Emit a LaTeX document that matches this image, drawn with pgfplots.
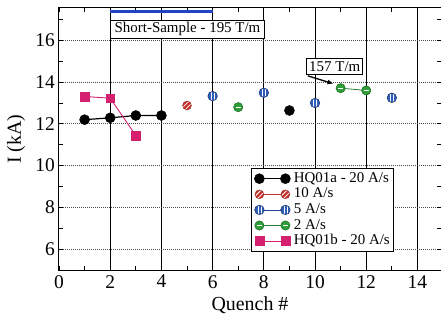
\documentclass[border=0pt]{standalone}
\usepackage{fontspec}
\setmainfont{Liberation Serif}
\usepackage{pgfplots}
\pgfplotsset{compat=1.18}
\usetikzlibrary{arrows.meta}
\definecolor{cred}{HTML}{C8322C}
\definecolor{cblue}{HTML}{2F5DB8}
\definecolor{cgreen}{HTML}{2E9E38}
\definecolor{cmag}{HTML}{D4206E}
\definecolor{sblue}{HTML}{2244C0}
% red: circle with white diagonal stripes
\pgfdeclareplotmark{hatchdiag}{%
  \pgfpathcircle{\pgfpointorigin}{\pgfplotmarksize}\pgfusepathqfillstroke
  \begin{pgfscope}
    \pgfpathcircle{\pgfpointorigin}{0.9\pgfplotmarksize}\pgfusepath{clip}%
    \pgfsetstrokecolor{white}\pgfsetlinewidth{0.75bp}%
    \pgfpathmoveto{\pgfpoint{-1.5\pgfplotmarksize}{-0.95\pgfplotmarksize}}%
    \pgfpathlineto{\pgfpoint{1.5\pgfplotmarksize}{2.05\pgfplotmarksize}}%
    \pgfpathmoveto{\pgfpoint{-1.5\pgfplotmarksize}{-2.05\pgfplotmarksize}}%
    \pgfpathlineto{\pgfpoint{1.5\pgfplotmarksize}{0.95\pgfplotmarksize}}%
    \pgfusepathqstroke
  \end{pgfscope}}
% blue: circle with white vertical lines
\pgfdeclareplotmark{hatchvert}{%
  \pgfpathcircle{\pgfpointorigin}{\pgfplotmarksize}\pgfusepathqfillstroke
  \begin{pgfscope}
    \pgfpathcircle{\pgfpointorigin}{0.85\pgfplotmarksize}\pgfusepath{clip}%
    \pgfsetstrokecolor{white}\pgfsetlinewidth{0.6bp}%
    \pgfpathmoveto{\pgfpoint{-0.33\pgfplotmarksize}{-\pgfplotmarksize}}%
    \pgfpathlineto{\pgfpoint{-0.33\pgfplotmarksize}{\pgfplotmarksize}}%
    \pgfpathmoveto{\pgfpoint{0.33\pgfplotmarksize}{-\pgfplotmarksize}}%
    \pgfpathlineto{\pgfpoint{0.33\pgfplotmarksize}{\pgfplotmarksize}}%
    \pgfusepathqstroke
  \end{pgfscope}}
% green: circle with white horizontal line
\pgfdeclareplotmark{hatchhor}{%
  \pgfpathcircle{\pgfpointorigin}{\pgfplotmarksize}\pgfusepathqfillstroke
  \begin{pgfscope}
    \pgfsetstrokecolor{white}\pgfsetlinewidth{0.7bp}%
    \pgfpathmoveto{\pgfpoint{-0.55\pgfplotmarksize}{0pt}}%
    \pgfpathlineto{\pgfpoint{0.55\pgfplotmarksize}{0pt}}%
    \pgfusepathqstroke
  \end{pgfscope}}
\begin{document}
\begin{tikzpicture}
\begin{axis}[
  name=ax,
  scale only axis, width=382bp, height=262bp,
  xmin=0, xmax=14.92, ymin=5, ymax=17.55,
  xtick={0,2,...,14}, ytick={6,8,...,16},
  minor xtick={1,3,...,15}, minor ytick={5,7,...,17},
  tick align=inside, major tick length=4bp, minor tick length=4bp,
  tick style={black, line width=0.8bp},
  axis line style={black, line width=1bp},
  grid=major,
  x grid style={black, line width=1bp},
  y grid style={black!70, line width=0.9bp, dash pattern=on 1.2bp off 0.8bp},
  unbounded coords=jump,
  /pgf/number format/assume math mode=true,
  tick label style={font=\fontsize{19.5}{19.5}\selectfont},
  yticklabel style={inner sep=0pt, xshift=-4bp},
  xticklabel style={inner sep=0pt, yshift=-5bp},
  xlabel={Quench \#}, ylabel={I (kA)},
  label style={font=\fontsize{20}{20}\selectfont},
  xlabel style={at={(axis description cs:0.5,-0.1336)}, anchor=center},
  ylabel style={at={(axis description cs:-0.1126,0.5)}, anchor=center},
  legend image code/.code={\draw[#1] plot coordinates {(0bp,0bp) (26bp,0bp)};},
  legend style={at={(axis description cs:0.5026,0.0687)}, anchor=south west,
    draw=black, line width=0.8bp, fill=white, inner sep=3bp,
    font=\fontsize{15}{15}\selectfont, row sep=0.6bp,
    nodes={inner sep=0.5bp, text height=10.5bp, text depth=3.5bp},
    /tikz/every odd column/.append style={column sep=3bp}},
  legend cell align=left,
]
\addplot[black, line width=1.2bp, mark=*, mark size=5bp,
  mark options={fill=black, line width=0.5bp, solid}]
  coordinates {(1,12.2) (2,12.29) (3,12.4) (4,12.4) (5,nan) (9,12.64)};
\addlegendentry{HQ01a - 20 A/s}
\addplot[cred, line width=0.6bp, mark=hatchdiag, mark size=4.4bp,
  mark options={fill=cred, draw=cred!75!black, line width=0.5bp, solid}]
  coordinates {(5,12.88)};
\addlegendentry{10 A/s}
\addplot[cblue!80!black, line width=0.8bp, mark=hatchvert, mark size=4.8bp,
  mark options={fill=cblue, draw=cblue!60!black, line width=0.5bp, solid}]
  coordinates {(6,13.33) (7,nan) (8,13.49) (9,nan) (10,13.0) (11,nan) (13,13.25)};
\addlegendentry{5 A/s}
\addplot[cgreen!80!black, line width=0.8bp, mark=hatchhor, mark size=4.6bp,
  mark options={fill=cgreen, draw=cgreen!70!black, line width=0.6bp, solid}]
  coordinates {(7,12.8) (8,nan) (11,13.71) (12,13.6)};
\addlegendentry{2 A/s}
\addplot[cmag, line width=0.9bp, mark=square*, mark size=4.4bp,
  mark options={fill=cmag, draw=cmag, line width=0.5bp, solid}]
  coordinates {(1,13.31) (2,13.23) (3,11.44)};
\addlegendentry{HQ01b - 20 A/s}
\addplot[sblue, line width=2.6bp, forget plot] coordinates {(2,17.37) (6,17.37)};
\node[draw=black, fill=white, line width=0.9bp, anchor=west, inner xsep=4bp, inner ysep=2.5bp,
  font=\fontsize{15}{15}\selectfont] at (axis cs:2,16.53) {Short-Sample - 195 T/m};
\draw[black, line width=1.3bp, -{Latex[length=6bp,width=5bp]}] (axis cs:9.72,14.3) -- (axis cs:10.72,13.92);
\node[draw=black, fill=white, line width=0.9bp, inner xsep=2.5bp, inner ysep=2.5bp,
  font=\fontsize{15}{15}\selectfont] at (axis cs:10.77,14.75) {157 T/m};
\end{axis}
\pgfresetboundingbox
\path (ax.south west) ++(-59bp,-50bp) rectangle ([yshift=8bp]ax.north east);
\end{tikzpicture}
\end{document}
